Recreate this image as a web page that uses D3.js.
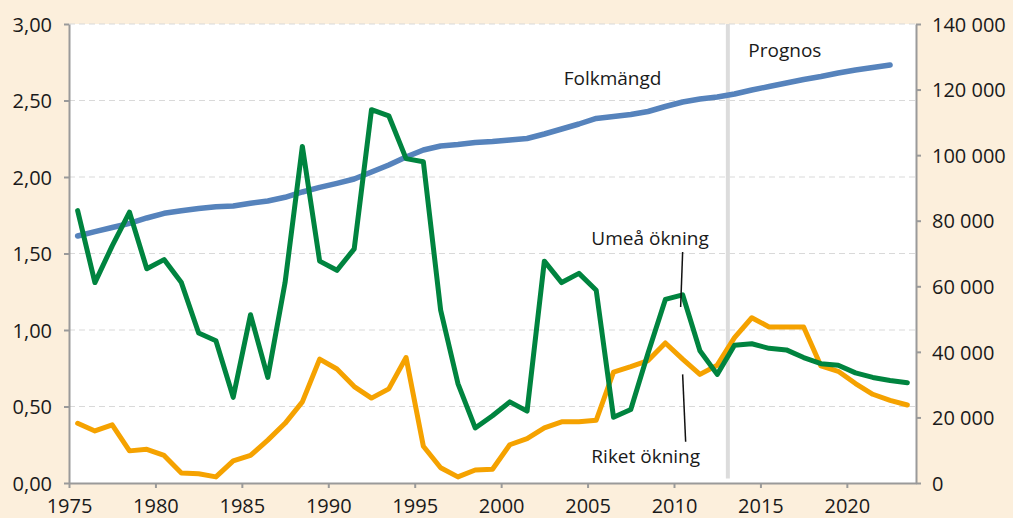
<!DOCTYPE html>
<html>
<head>
<meta charset="utf-8">
<script src="https://cdn.jsdelivr.net/npm/d3@7"></script>
<style>
  html, body { margin: 0; padding: 0; background: #fcefdc; }
  svg { display: block; font-family: "Open Sans", "Noto Sans", sans-serif; }
  .tick text { fill: #1a1a1a; font-size: 20px; font-family: "Open Sans", "Noto Sans", sans-serif; }
  .domain, .tick line { stroke: #9a9a9a; stroke-width: 2; }
  .gridline { stroke: #d9d9d9; stroke-width: 1; stroke-dasharray: 6 4; }
  .note { fill: #1a1a1a; font-size: 19px; }
  .leader { stroke: #111; stroke-width: 1.5; }
</style>
</head>
<body>
<svg id="chart" width="1013" height="518"></svg>
<script>
// years 1975-2023 (population series ends 2022)
const years = d3.range(1975, 2024);
const prognosYear = 2013;

// Umeå befolkningsökning, % (left axis)
const umeaOkning = [
  1.78, 1.31, 1.55, 1.77, 1.40, 1.46, 1.31, 0.98, 0.93, 0.56,
  1.10, 0.69, 1.31, 2.20, 1.45, 1.39, 1.53, 2.44, 2.40, 2.12,
  2.10, 1.13, 0.65, 0.36, 0.44, 0.53, 0.47, 1.45, 1.31, 1.37,
  1.26, 0.43, 0.48, 0.85, 1.20, 1.23, 0.865, 0.71, 0.90, 0.91,
  0.88, 0.87, 0.82, 0.78, 0.77, 0.72, 0.69, 0.67, 0.655
];

// Riket befolkningsökning, % (left axis)
const riketOkning = [
  0.39, 0.34, 0.38, 0.21, 0.22, 0.18, 0.065, 0.06, 0.04, 0.145,
  0.18, 0.28, 0.39, 0.53, 0.81, 0.745, 0.63, 0.555, 0.615, 0.82,
  0.24, 0.10, 0.04, 0.085, 0.09, 0.25, 0.29, 0.36, 0.40, 0.40,
  0.41, 0.725, 0.76, 0.80, 0.915, 0.81, 0.71, 0.77, 0.95, 1.08,
  1.02, 1.02, 1.02, 0.765, 0.73, 0.65, 0.58, 0.54, 0.51
];

// Folkmängd Umeå (right axis), 1975-2022
const folkmangd = [
  75340, 76650, 77930, 79210, 80830, 82260, 83050, 83720, 84270, 84490,
  85310, 86010, 87140, 88760, 90190, 91410, 92720, 94860, 96990, 99430,
  101570, 102790, 103240, 103850, 104160, 104620, 105080, 106450, 107970, 109500,
  111180, 111790, 112400, 113310, 114840, 116210, 117120, 117730, 118650, 119870,
  120930, 122000, 123070, 123990, 125050, 125970, 126730, 127490
];

const xTicks = d3.range(1975, 2021, 5);
const leftTicks = [0, 0.5, 1, 1.5, 2, 2.5, 3];
const rightTicks = d3.range(0, 140001, 20000);

const M = { left: 69, right: 97, top: 24, bottom: 35 };
const WIDTH = 1013, HEIGHT = 518;
const W = WIDTH - M.left - M.right;
const H = HEIGHT - M.top - M.bottom;

const svg = d3.select("#chart");
const g = svg.append("g").attr("transform", `translate(${M.left},${M.top})`);

const x = d3.scaleLinear().domain([1975, 2024]).range([0, W]);
const xPt = yr => x(yr + 0.5); // points sit mid-year
const yL = d3.scaleLinear().domain([0, 3]).range([H, 0]);
const yR = d3.scaleLinear().domain([0, 140000]).range([H, 0]);

const fmtLeft = d => d3.format(".2f")(d).replace(".", ",");
const fmtRight = d => d3.format(",")(d).replace(/,/g, " ");

// plot background
g.append("rect").attr("width", W).attr("height", H).attr("fill", "#fff");

// dashed gridlines (left axis)
g.append("g").selectAll("line").data(leftTicks.filter(d => d > 0)).join("line")
  .attr("class", "gridline")
  .attr("x1", 0).attr("x2", W)
  .attr("y1", d => yL(d)).attr("y2", d => yL(d));

// prognos divider
g.append("line")
  .attr("x1", x(prognosYear) + 2).attr("x2", x(prognosYear) + 2)
  .attr("y1", 0).attr("y2", yL(0.03))
  .attr("stroke", "#dcdcdc").attr("stroke-width", 4);

// axes
g.append("g").attr("transform", `translate(0,${H})`)
  .call(d3.axisBottom(x).tickValues(xTicks).tickFormat(d => d).tickSize(5).tickSizeOuter(0))
  .call(a => a.selectAll("text").attr("dy", 0).attr("y", 30));

g.append("g")
  .call(d3.axisLeft(yL).tickValues(leftTicks).tickFormat(fmtLeft).tickSize(5).tickSizeOuter(0))
  .call(a => a.selectAll("text").attr("x", -17).attr("dy", "0.36em"));

g.append("g").attr("transform", `translate(${W},0)`)
  .call(d3.axisRight(yR).tickValues(rightTicks).tickFormat(fmtRight).tickSize(5).tickSizeOuter(0))
  .call(a => a.selectAll("text").attr("x", 16).attr("dy", "0.36em"));

// series
const lineL = d3.line().x((d, i) => xPt(years[i])).y(d => yL(d));
const lineR = d3.line().x((d, i) => xPt(years[i])).y(d => yR(d));

const series = [
  { name: "Folkmängd", values: folkmangd, gen: lineR, color: "#5683bc", width: 5.5 },
  { name: "Riket ökning", values: riketOkning, gen: lineL, color: "#f5a200", width: 5 },
  { name: "Umeå ökning", values: umeaOkning, gen: lineL, color: "#00843f", width: 5 }
];

g.selectAll("path.series").data(series).join("path")
  .attr("class", "series")
  .attr("fill", "none")
  .attr("stroke", d => d.color)
  .attr("stroke-width", d => d.width)
  .attr("stroke-linejoin", "round")
  .attr("stroke-linecap", "round")
  .attr("d", d => d.gen(d.values));

// annotations
g.append("text").attr("class", "note").attr("x", x(2003.62)).attr("y", yR(121400)).text("Folkmängd");
g.append("text").attr("class", "note").attr("x", x(2014.3)).attr("y", yR(130000)).text("Prognos");
g.append("text").attr("class", "note").attr("x", x(2005.22)).attr("y", yL(1.556)).text("Umeå ökning");
g.append("text").attr("class", "note").attr("x", x(2005.22)).attr("y", yL(0.13)).text("Riket ökning");

g.append("line").attr("class", "leader")
  .attr("x1", xPt(2010)).attr("y1", yL(1.51))
  .attr("x2", xPt(2010) - 2).attr("y2", yL(1.15));
g.append("line").attr("class", "leader")
  .attr("x1", xPt(2010)).attr("y1", yL(0.71))
  .attr("x2", xPt(2010) + 3).attr("y2", yL(0.27));
</script>
</body>
</html>
